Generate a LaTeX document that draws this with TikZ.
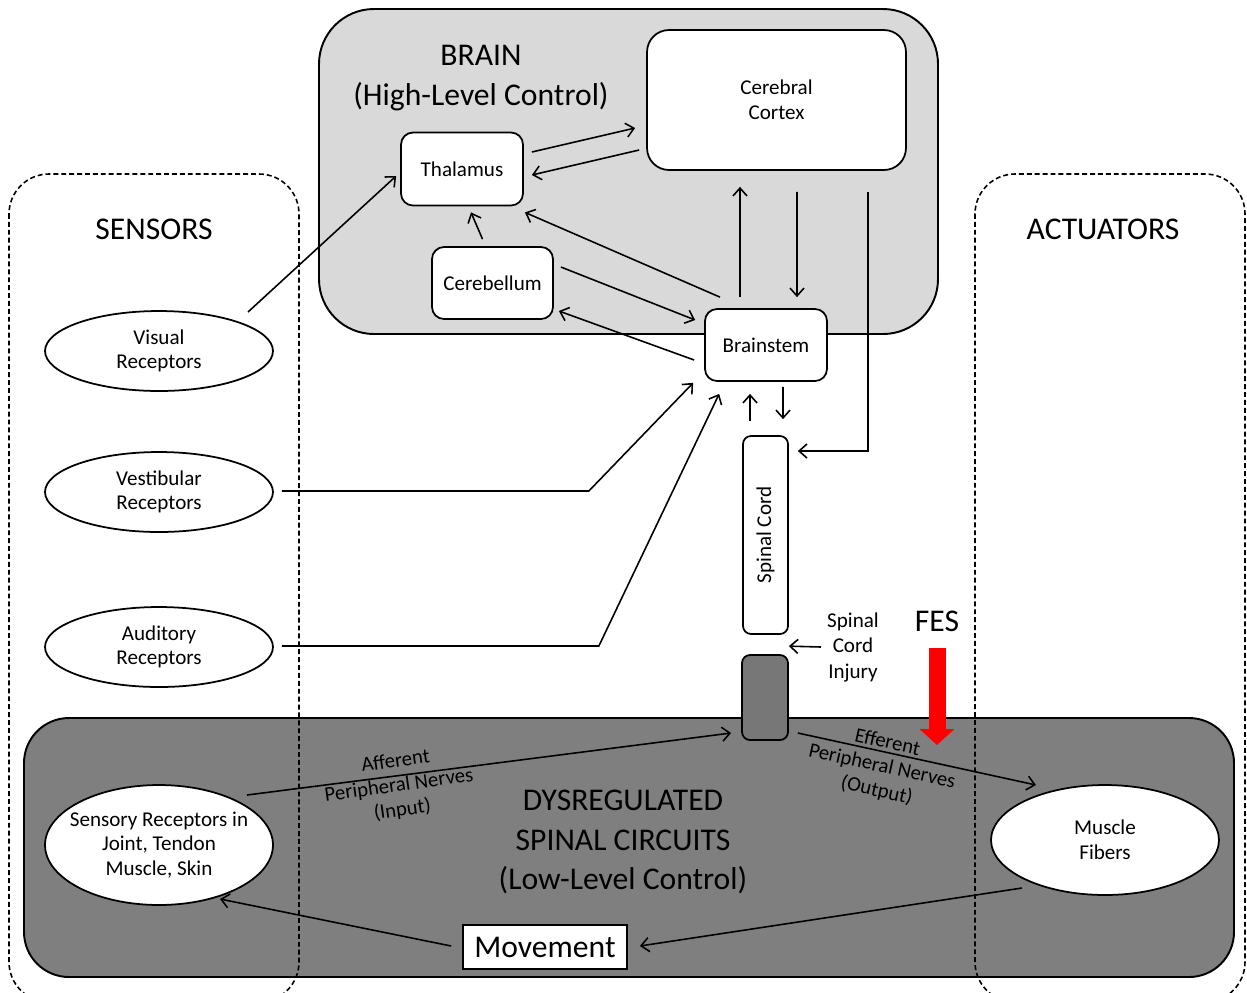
\documentclass[tikz,border=0pt]{standalone}
\usepackage{fontspec}
\setmainfont{Carlito}
\usetikzlibrary{arrows.meta,shapes.geometric,calc}

\definecolor{brainfill}{HTML}{D9D9D9}
\definecolor{spinefill}{HTML}{7F7F7F}
\definecolor{lesion}{HTML}{777777}
\definecolor{fesred}{HTML}{FF0000}

\begin{document}
\begin{tikzpicture}[x=0.02cm,y=-0.02cm,
  small/.style={font=\fontsize{12}{14}\selectfont},
  big/.style={font=\fontsize{18}{22.3}\selectfont},
  rbox/.style={draw, line width=1pt, fill=white, rounded corners=0.24cm,
    inner sep=0pt, align=center, small},
  oval/.style={draw, ellipse, line width=1pt, fill=white, inner sep=0pt},
  ovaltext/.style={align=center, small},
  region/.style={draw, dash pattern=on 2.8pt off 1.7pt, line width=0.9pt,
    rounded corners=0.8cm},
  link/.style={line width=0.9pt, -{Straight Barb[length=4.5pt,width=8pt]}},
  nervelabel/.style={align=center, inner sep=1pt, font=\fontsize{11.8}{14}\selectfont}
]
\fill[white] (0,0) rectangle (1247,992);
\clip (0,0) rectangle (1247,992);

% background regions
\draw[line width=1.1pt, fill=spinefill, rounded corners=0.9cm] (24,718) rectangle (1234,977);
\draw[line width=1.1pt, fill=brainfill, rounded corners=1.1cm] (319,9) rectangle (938,334);
\draw[region] (9,174) rectangle (299,1002);
\draw[region] (975,174) rectangle (1245,1002);

% region titles
\node[big, align=center] (braintitle) at (481,78) {BRAIN\\(High-Level Control)};
\node[big] (senstitle) at (154,229) {SENSORS};
\node[big] (acttitle) at (1103,229) {ACTUATORS};
\node[big, align=center] (spinetitle) at (623,842) {DYSREGULATED\\SPINAL CIRCUITS\\(Low-Level Control)};

% brain structures
\node[rbox, minimum width=2.44cm, minimum height=1.46cm] (thal) at (462,169) {Thalamus};
\node[rbox, minimum width=5.18cm, minimum height=2.8cm, rounded corners=0.44cm] (cortex) at (776.5,100) {Cerebral\\Cortex};
\node[rbox, minimum width=2.42cm, minimum height=1.44cm] (cereb) at (492.5,283) {Cerebellum};
\node[rbox, minimum width=2.44cm, minimum height=1.44cm] (bstem) at (766,345) {Brainstem};

% spinal cord and lesion
\node[rbox, minimum width=0.9cm, minimum height=3.96cm, rounded corners=0.16cm] (spinal) at (765.5,535) {};
\node[small, rotate=90] (spinaltext) at (spinal.center) {Spinal Cord};
\node[draw, line width=1pt, fill=lesion, rounded corners=0.16cm, minimum width=0.92cm,
  minimum height=1.7cm, inner sep=0pt] (injury) at (765,697.5) {};
\node[align=center, font=\fontsize{12}{14.5}\selectfont] (sci) at (853,647) {Spinal\\Cord\\Injury};

% sensors
\node[oval, minimum width=4.56cm, minimum height=1.6cm] (vis) at (159,351) {};
\node[ovaltext] (vistext) at (vis.center) {Visual\\Receptors};
\node[oval, minimum width=4.56cm, minimum height=1.6cm] (vest) at (159,492) {};
\node[ovaltext] (vesttext) at (vest.center) {Vestibular\\Receptors};
\node[oval, minimum width=4.56cm, minimum height=1.6cm] (aud) at (159,647) {};
\node[ovaltext] (audtext) at (aud.center) {Auditory\\Receptors};
\node[oval, minimum width=4.56cm, minimum height=2.4cm] (sens) at (159,845) {};
\node[ovaltext] (senstext) at (sens.center) {Sensory Receptors in\\Joint, Tendon\\Muscle, Skin};

% actuators
\node[oval, minimum width=4.56cm, minimum height=2.2cm] (muscle) at (1105,840) {};
\node[ovaltext] (muscletext) at (muscle.center) {Muscle\\Fibers};
\node[draw, line width=1pt, fill=white, minimum width=3.28cm, minimum height=0.88cm,
  inner sep=0pt, big] (move) at (545,947) {Movement};

% stimulation
\node[big] (fes) at (937,621) {FES};
\draw[fesred, line width=0.34cm, -{Triangle[length=0.32cm,width=0.68cm]}]
  ($(fes.center)+(0,27)$) -- ($(fes.center)+(0,124)$);

% nerve labels
\node[nervelabel, rotate=8] (afflabel) at (399,786) {Afferent\\Peripheral Nerves\\(Input)};
\node[nervelabel, rotate=-12.5] (efflabel) at (882,767) {Efferent\\Peripheral Nerves\\(Output)};

% connections within the brain
\draw[link] ($(vis.center)+(89,-39)$) -- ($(thal.west)+(-4,7)$);
\draw[link] ($(thal.east)+(8,-17)$) -- ($(cortex.west)+(-11,28)$);
\draw[link] ($(cortex.west)+(-7,50)$) -- ($(thal.east)+(8,6)$);
\draw[link] ($(cereb.north)+(-10,-7)$) -- ($(thal.south)+(9,6)$);
\draw[link] ($(bstem.north)+(-46,-11)$) -- ($(thal.south east)+(1,6)$);
\draw[link] ($(cereb.east)+(7,-16)$) -- ($(bstem.west)+(-9,-25)$);
\draw[link] ($(bstem.west)+(-10,15)$) -- ($(cereb.east)+(5,28)$);
\draw[link] ($(bstem.north)+(-26,-11)$) -- ($(cortex.south)+(-36.5,16)$);
\draw[link] ($(cortex.south)+(20.5,21)$) -- ($(bstem.north)+(31,-11)$);
\draw[link] ($(cortex.south)+(91.5,21)$) |- ($(spinal.east)+(9,-84)$);

% sensory pathways
\draw[link] ($(vest.east)+(8,-1)$) -- ++(307,0) -- ($(bstem.south west)+(-11,1)$);
\draw[link] ($(aud.east)+(8,-1)$) -- ++(317,0) -- ($(bstem.south west)+(15,12)$);

% brainstem and spinal cord
\draw[link] ($(spinal.north)+(-15.5,-14)$) -- ($(bstem.south)+(-16,12)$);
\draw[link] ($(bstem.south)+(17,5)$) -- ($(spinal.north)+(17.5,-16)$);
\draw[link] (sci.west) -- ($(injury.north east)+(0,-8)$);

% spinal loop
\draw[link] ($(sens.center)+(88,-50)$) -- ($(injury.west)+(-10,35.5)$);
\draw[link] ($(injury.east)+(9,35.5)$) -- ($(muscle.center)+(-69,-55)$);
\draw[link] ($(muscle.center)+(-83,48)$) -- ($(move.east)+(12,-1)$);
\draw[link] ($(move.west)+(-11,-1)$) -- ($(sens.center)+(61,54)$);
\end{tikzpicture}
\end{document}
